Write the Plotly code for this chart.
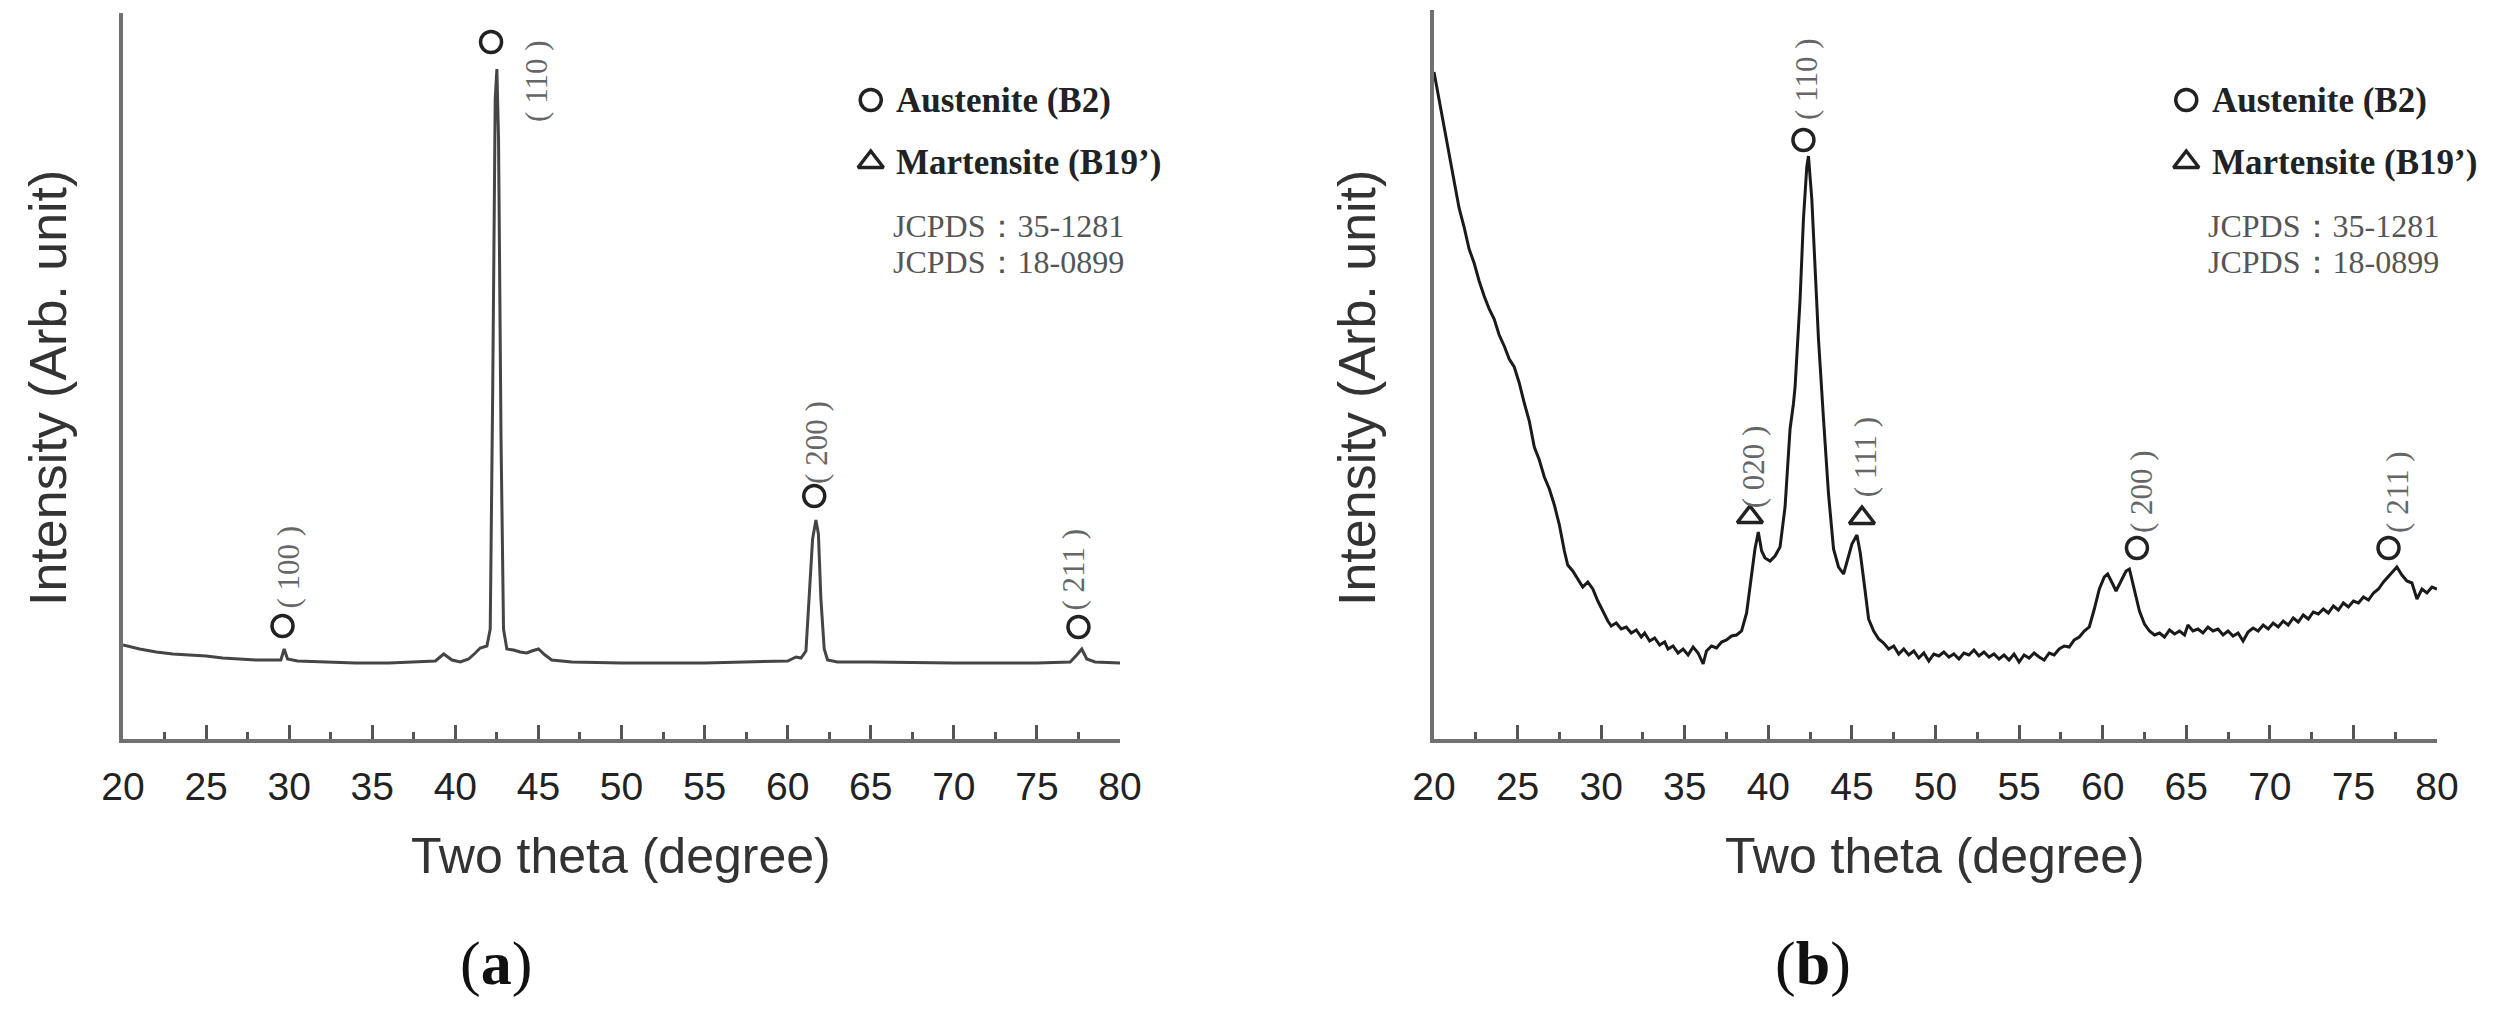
import plotly.graph_objects as go

# ---------------- data: panel (a) ----------------
xa = [20.0, 21.0, 22.0, 23.0, 24.0, 25.0, 26.0, 27.0, 28.0, 29.0, 29.5, 29.7, 29.9, 30.5, 32.0, 34.0,
      36.0, 38.0, 38.8, 39.3, 39.8, 40.3, 40.8, 41.2, 41.5, 41.9, 42.1, 42.25, 42.4, 42.5, 42.6, 42.75,
      42.9, 43.1, 43.5, 43.9, 44.3, 44.6, 45.0, 45.4, 45.8, 47.0, 50.0, 55.0, 59.0, 60.0, 60.5, 60.8,
      61.1, 61.3, 61.5, 61.7, 61.85, 62.0, 62.2, 62.4, 63.0, 65.0, 70.0, 75.0, 77.0, 77.4, 77.7, 78.0,
      78.5, 80.0]
ya = [94, 90, 87, 85, 84, 83, 81, 80, 79, 79, 79, 90, 80, 78, 77, 76,
      76, 77, 78, 85, 79, 77, 80, 86, 91, 93, 110, 350, 640, 670, 600, 300,
      110, 90, 89, 87, 86, 88, 90, 84, 79, 77, 76, 76, 77, 78, 82, 81,
      88, 140, 200, 219, 205, 140, 90, 79, 77, 77, 76, 76, 77, 84, 90, 80,
      77, 76]

a_circle_x = [29.6, 42.15, 61.6, 77.5]
a_circle_y = [113, 697, 243, 112]
a_labels = ["( 100 )", "( 110 )", "( 200 )", "( 211 )"]
a_label_x = [29.9, 44.85, 61.7, 77.2]
a_label_y = [172, 658, 297, 170]

# ---------------- data: panel (b) ----------------
xb = [20.0, 20.3, 20.6, 20.9, 21.2, 21.5, 21.8, 22.1, 22.4, 22.7, 23.0, 23.3, 23.6, 23.9, 24.2, 24.5,
      24.8, 25.1, 25.4, 25.7, 26.0, 26.3, 26.6, 26.9, 27.2, 27.5, 27.8, 28.0, 28.3, 28.6, 28.9, 29.2,
      29.5, 29.8, 30.1, 30.4, 30.6, 30.9, 31.2, 31.5, 31.8, 32.1, 32.4, 32.6, 32.9, 33.2, 33.5, 33.8,
      34.0, 34.3, 34.6, 34.9, 35.2, 35.5, 35.8, 36.1, 36.3, 36.6, 36.9, 37.2, 37.5, 37.8, 38.1, 38.4,
      38.7, 39.0, 39.2, 39.4, 39.6, 39.8, 40.1, 40.4, 40.7, 41.0, 41.3, 41.5, 41.6, 41.9, 42.1, 42.3,
      42.4, 42.6, 42.8, 43.0, 43.3, 43.6, 43.9, 44.2, 44.5, 44.8, 45.0, 45.3, 45.5, 45.7, 46.0, 46.3,
      46.6, 46.9, 47.2, 47.5, 47.8, 48.1, 48.4, 48.7, 49.0, 49.3, 49.6, 49.9, 50.2, 50.5, 50.8, 51.1,
      51.4, 51.7, 52.0, 52.3, 52.6, 52.9, 53.2, 53.5, 53.8, 54.1, 54.4, 54.7, 55.0, 55.3, 55.6, 55.9,
      56.2, 56.5, 56.8, 57.1, 57.4, 57.7, 58.0, 58.3, 58.6, 58.9, 59.2, 59.5, 59.8, 60.1, 60.3, 60.6,
      60.8, 61.1, 61.4, 61.6, 61.9, 62.2, 62.5, 62.8, 63.1, 63.4, 63.7, 64.0, 64.3, 64.6, 64.9, 65.1,
      65.4, 65.7, 66.0, 66.3, 66.6, 66.9, 67.2, 67.5, 67.8, 68.1, 68.4, 68.7, 69.0, 69.3, 69.6, 69.9,
      70.2, 70.5, 70.8, 71.1, 71.4, 71.7, 72.0, 72.3, 72.6, 72.9, 73.2, 73.5, 73.8, 74.1, 74.4, 74.7,
      75.0, 75.3, 75.6, 75.9, 76.2, 76.5, 76.8, 77.1, 77.4, 77.6, 77.9, 78.2, 78.5, 78.8, 79.1, 79.4,
      79.7, 80.0]
yb = [667, 640, 615, 586, 560, 531, 512, 490, 476, 458, 443, 430, 420, 404, 393, 380,
      372, 356, 336, 318, 292, 279, 262, 250, 234, 214, 188, 174, 168, 160, 152, 157,
      150, 138, 128, 118, 113, 116, 110, 112, 106, 109, 102, 106, 98, 101, 94, 97,
      90, 93, 86, 90, 84, 92, 86, 75, 88, 93, 91, 97, 99, 103, 104, 108,
      126, 165, 190, 207, 188, 181, 178, 183, 192, 232, 310, 335, 352, 440, 520, 572,
      583, 540, 470, 400, 320, 245, 190, 172, 165, 182, 195, 204, 186, 160, 120, 108,
      100, 96, 90, 93, 85, 90, 84, 88, 81, 86, 78, 85, 83, 87, 82, 85,
      80, 86, 84, 89, 83, 87, 82, 85, 80, 84, 79, 85, 77, 84, 81, 86,
      82, 79, 86, 84, 90, 93, 92, 99, 102, 108, 112, 130, 150, 162, 165, 155,
      148, 158, 168, 170, 150, 128, 115, 108, 104, 106, 102, 109, 105, 108, 104, 114,
      108, 110, 106, 112, 108, 110, 104, 108, 103, 106, 98, 107, 111, 108, 114, 110,
      116, 112, 118, 114, 121, 117, 124, 120, 127, 125, 130, 126, 133, 129, 136, 132,
      138, 136, 142, 139, 146, 150, 157, 163, 168, 172, 164, 158, 156, 140, 150, 146,
      152, 150]

b_circle_x = [42.1, 62.05, 77.1]
b_circle_y = [599, 191, 191]
b_tri_x = [38.9, 45.6]
b_tri_y = [222, 221]
b_labels = ["( 020 )", "( 110 )", "( 111 )", "( 200 )", "( 211 )"]
b_label_x = [39.1, 42.25, 45.8, 62.3, 77.6]
b_label_y = [272, 660, 282, 247, 247]

# key (same position in both panels, data coords)
key_sym_x = 65.0
key_y = [639, 577]
key_text_x = 66.4
key_texts = ["<b>Austenite (B2)</b>", "<b>Martensite (B19’)</b>"]
jcpds_x = 66.2
jcpds_y = [513, 477]
jcpds_texts = ["JCPDS：35-1281", "JCPDS：18-0899"]

x_ticks = [20, 25, 30, 35, 40, 45, 50, 55, 60, 65, 70, 75, 80]
panel_tags = ["(<b>a</b>)", "(<b>b</b>)"]

W, H = 2509, 1024
SERIF = "Liberation Serif, Times New Roman, serif"
SANS = "Liberation Sans, Arial, sans-serif"

fig = go.Figure()

fig.add_trace(go.Scatter(x=xa, y=ya, mode="lines", line=dict(color="#454545", width=3),
                         xaxis="x", yaxis="y", showlegend=False, hoverinfo="skip"))
fig.add_trace(go.Scatter(x=xb, y=yb, mode="lines", line=dict(color="#1a1a1a", width=3),
                         xaxis="x2", yaxis="y2", showlegend=False, hoverinfo="skip"))

circ = dict(symbol="circle-open", size=21, color="#222", line=dict(width=3.5, color="#222"))
tri = dict(symbol="triangle-up-open", size=22, color="#222", line=dict(width=3.5, color="#222"))

fig.add_trace(go.Scatter(x=a_circle_x, y=a_circle_y, mode="markers", marker=circ,
                         xaxis="x", yaxis="y", showlegend=False))
fig.add_trace(go.Scatter(x=b_circle_x, y=b_circle_y, mode="markers", marker=circ,
                         xaxis="x2", yaxis="y2", showlegend=False))
fig.add_trace(go.Scatter(x=b_tri_x, y=b_tri_y, mode="markers", marker=tri,
                         xaxis="x2", yaxis="y2", showlegend=False))

for xr, yr in (("x", "y"), ("x2", "y2")):
    fig.add_trace(go.Scatter(x=[key_sym_x], y=[key_y[0]], mode="markers", marker=circ,
                             xaxis=xr, yaxis=yr, showlegend=False))
    fig.add_trace(go.Scatter(x=[key_sym_x], y=[key_y[1]], mode="markers", marker=tri,
                             xaxis=xr, yaxis=yr, showlegend=False))

ann = []
for lx, ly, lt in zip(a_label_x, a_label_y, a_labels):
    ann.append(dict(x=lx, y=ly, xref="x", yref="y", text=lt, showarrow=False, textangle=-90,
                    xanchor="center", yanchor="middle",
                    font=dict(family=SERIF, size=31, color="#666")))
for lx, ly, lt in zip(b_label_x, b_label_y, b_labels):
    ann.append(dict(x=lx, y=ly, xref="x2", yref="y2", text=lt, showarrow=False, textangle=-90,
                    xanchor="center", yanchor="middle",
                    font=dict(family=SERIF, size=31, color="#666")))
for xr, yr in (("x", "y"), ("x2", "y2")):
    for t, yy in zip(key_texts, key_y):
        ann.append(dict(x=key_text_x, y=yy, xref=xr, yref=yr, text=t, showarrow=False,
                        xanchor="left", yanchor="middle",
                        font=dict(family=SERIF, size=35, color="#222")))
    for t, yy in zip(jcpds_texts, jcpds_y):
        ann.append(dict(x=jcpds_x, y=yy, xref=xr, yref=yr, text=t, showarrow=False,
                        xanchor="left", yanchor="middle",
                        font=dict(family=SERIF, size=32, color="#555")))


def px(xp):
    return xp / W


def py(yp):
    return 1 - yp / H


for cx in (621, 1935):
    ann.append(dict(x=px(cx), y=py(856), xref="paper", yref="paper", text="Two theta (degree)",
                    xanchor="center", yanchor="middle",
                    showarrow=False, font=dict(family=SANS, size=50, color="#333")))
for cx in (48, 1357):
    ann.append(dict(x=px(cx), y=py(388), xref="paper", yref="paper", text="Intensity (Arb. unit)",
                    xanchor="center", yanchor="middle",
                    showarrow=False, textangle=-90, font=dict(family=SANS, size=52, color="#333")))
for cx, tag in zip((496, 1813), panel_tags):
    ann.append(dict(x=px(cx), y=py(963), xref="paper", yref="paper", text=tag,
                    xanchor="center", yanchor="middle",
                    showarrow=False, font=dict(family=SERIF, size=62, color="#111")))

xax = dict(range=[20, 80], tickvals=x_ticks, ticktext=[str(v) for v in x_ticks],
           showline=True, linewidth=4, linecolor="#707070", mirror=False,
           ticks="inside", ticklen=14, tickwidth=3, tickcolor="#555",
           minor=dict(tickvals=[v + 2.5 for v in x_ticks[:-1]], ticks="inside", ticklen=7,
                      tickwidth=3, tickcolor="#555"),
           showgrid=False, zeroline=False, automargin=False, ticklabelstandoff=10,
           tickfont=dict(family=SANS, size=39, color="#222"), fixedrange=True)
yax = dict(range=[0, 726], showline=True, linewidth=4, linecolor="#707070",
           showticklabels=False, ticks="", showgrid=False, zeroline=False,
           automargin=False, fixedrange=True)

fig.update_layout(
    template="none",
    width=W, height=H, autosize=False,
    margin=dict(l=0, r=0, t=0, b=0, pad=0, autoexpand=False),
    paper_bgcolor="white", plot_bgcolor="white",
    xaxis=dict(xax, domain=[123 / W, 1120 / W], anchor="y"),
    yaxis=dict(yax, domain=[1 - 739 / H, 1 - 13 / H], anchor="x"),
    xaxis2=dict(xax, domain=[1434 / W, 2437 / W], anchor="y2"),
    yaxis2=dict(yax, range=[0, 729], domain=[1 - 739 / H, 1 - 10 / H], anchor="x2"),
    annotations=ann,
    showlegend=False,
)

fig.write_html("out.html", config={"displayModeBar": False},
               post_script="document.body.style.margin='0';document.body.style.overflow='hidden';")
